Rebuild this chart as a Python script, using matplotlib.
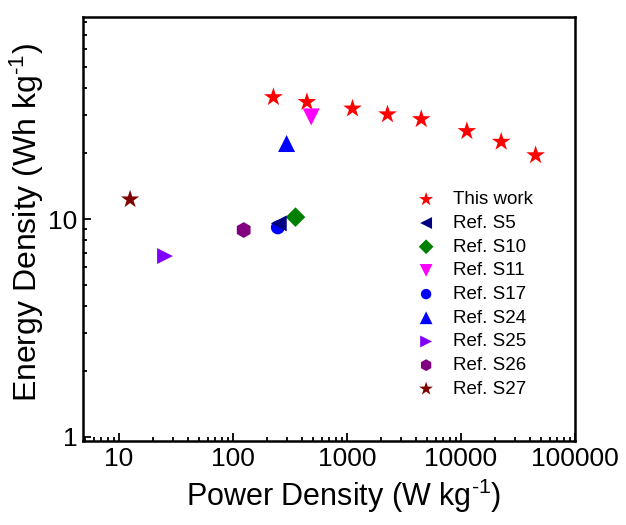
import matplotlib
matplotlib.use('Agg')
import matplotlib.pyplot as plt
from matplotlib.ticker import LogLocator, FixedLocator, FixedFormatter, NullFormatter

plt.rcParams['font.family'] = ['Liberation Sans', 'DejaVu Sans']
plt.rcParams['mathtext.default'] = 'regular'

# --- DATA ---
this_power = [226, 445, 1117, 2265, 4477, 11250, 22500, 45100]
this_energy = [36.2, 34.4, 32.1, 30.2, 28.7, 25.3, 22.6, 19.6]

ref_labels = ['Ref. S5', 'Ref. S10', 'Ref. S11', 'Ref. S17', 'Ref. S24', 'Ref. S25', 'Ref. S26', 'Ref. S27']
ref_power = [252, 353, 485, 247, 295, 25.3, 124, 12.5]
ref_energy = [9.55, 10.2, 29.4, 9.15, 22.2, 6.76, 8.9, 12.3]
ref_markers = ['<', 'D', 'v', 'o', '^', '>', 'h', '*']
ref_colors = ['#000080', '#008000', '#ff00ff', '#0000ff', '#0000ff', '#8000ff', '#800080', '#800000']
ref_sizes = [130, 100, 150, 100, 150, 130, 130, 190]

x_ticks = [10, 100, 1000, 10000, 100000]
x_ticklabels = ['10', '100', '1000', '10000', '100000']
y_ticks = [1, 10]
y_ticklabels = ['1', '10']

fig = plt.figure(figsize=(6.26, 5.25), dpi=100)
ax = fig.add_axes([0.1326, 0.16, 0.786, 0.8076])

ax.scatter(this_power, this_energy, marker='*', s=200, color='#ff0000', edgecolors='none',
           label='This work', zorder=3)
for p, e, lab, m, c, s in zip(ref_power, ref_energy, ref_labels, ref_markers, ref_colors, ref_sizes):
    # S5 triangle sits on top of the S17 circle in the original
    z = 4 if lab == 'Ref. S5' else 3
    ax.scatter([p], [e], marker=m, s=s, color=c, edgecolors='none', label=lab, zorder=z)

ax.set_xscale('log')
ax.set_yscale('log')
ax.set_xlim(4.83, 100000)
ax.set_ylim(0.958, 84.5)

ax.xaxis.set_major_locator(FixedLocator(x_ticks))
ax.xaxis.set_major_formatter(FixedFormatter(x_ticklabels))
ax.yaxis.set_major_locator(FixedLocator(y_ticks))
ax.yaxis.set_major_formatter(FixedFormatter(y_ticklabels))
ax.xaxis.set_minor_locator(LogLocator(base=10, subs=range(2, 10)))
ax.yaxis.set_minor_locator(LogLocator(base=10, subs=range(2, 10)))
ax.xaxis.set_minor_formatter(NullFormatter())
ax.yaxis.set_minor_formatter(NullFormatter())

ax.tick_params(which='both', direction='in', top=False, right=False, width=1.3)
ax.tick_params(which='major', length=6, labelsize=19, pad=4)
ax.tick_params(which='minor', length=3)
for sp in ax.spines.values():
    sp.set_linewidth(1.8)

ax.set_xlabel('Power Density (W kg$^{\u20101}$)', fontsize=22)
ax.set_ylabel('Energy Density (Wh kg$^{\u20101}$)', fontsize=23)
ax.xaxis.set_label_coords(0.53, -0.085)
ax.yaxis.set_label_coords(-0.075, 0.515)

ax.legend(loc='upper left', bbox_to_anchor=(0.663, 0.607), frameon=False, fontsize=13.5,
          handlelength=1.0, handletextpad=0.94, labelspacing=0.35, scatterpoints=1,
          markerscale=0.75, borderaxespad=0)

fig.savefig('out.png', dpi=100)
